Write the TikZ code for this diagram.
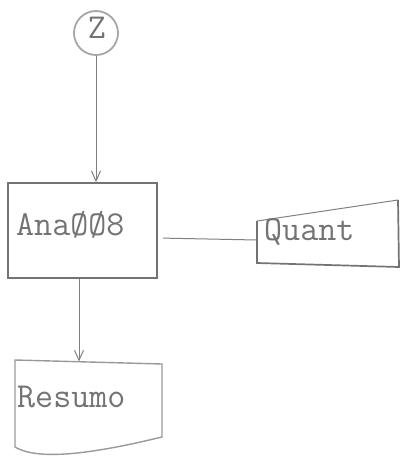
\documentclass[tikz,border=0pt]{standalone}
\usepackage{fontspec}
\usetikzlibrary{arrows.meta}
\begin{document}
\begin{tikzpicture}[x=1pt,y=-1pt,
  boxline/.style={draw=black!55, line width=1.7pt},
  docline/.style={draw=black!40, line width=1.4pt},
  conn/.style={draw=black!50, line width=1pt},
  arr/.style={conn, -{Straight Barb[length=10pt,width=9pt]}},
  lbl/.style={font=\fontsize{35}{40}\selectfont\ttfamily, text=black!55, inner sep=0pt, anchor=base west},
]
\useasboundingbox (0,0) rectangle (404,460);
% start circle
\node[draw=black!35, line width=1.8pt, circle, minimum size=44pt, inner sep=0pt] (z) at (96,33) {};
\node[lbl, anchor=base] (zt) at (97,39) {Z};
% process box
\node[boxline, rectangle, minimum width=149pt, minimum height=95pt, inner sep=0pt] (ana) at (82.5,230.5) {};
\node[lbl] (anat) at (16,235) {AnaØØ8};
% manual input
\coordinate (q1) at (257,221);
\coordinate (q2) at (398,200);
\coordinate (q3) at (399,267);
\coordinate (q4) at (257,263);
\coordinate (qin) at (257,240);
\draw[boxline] (q2) -- (q3) -- (q4) -- (q1);
\draw[conn] (q1) -- (q2);
\node[lbl] (qt) at (264,240) {Quant};
% document
\coordinate (r1) at (15,360);
\coordinate (r2) at (162,364);
\coordinate (r3) at (162,437);
\coordinate (r4) at (15,447);
\coordinate (rin) at (79,361.5);
\draw[docline] (r4) -- (r1) -- (r2) -- (r3) .. controls (100,452) and (40,462) .. (r4);
\node[lbl] (rt) at (17,407) {Resumo};
% connectors
\draw[arr] (z.south) -- (z.south |- ana.north);
\draw[conn, shorten <=5pt] ([yshift=-7.5pt]ana.east) -- (qin);
\draw[arr] ([xshift=-3.5pt]ana.south) -- (rin);
\end{tikzpicture}
\end{document}
